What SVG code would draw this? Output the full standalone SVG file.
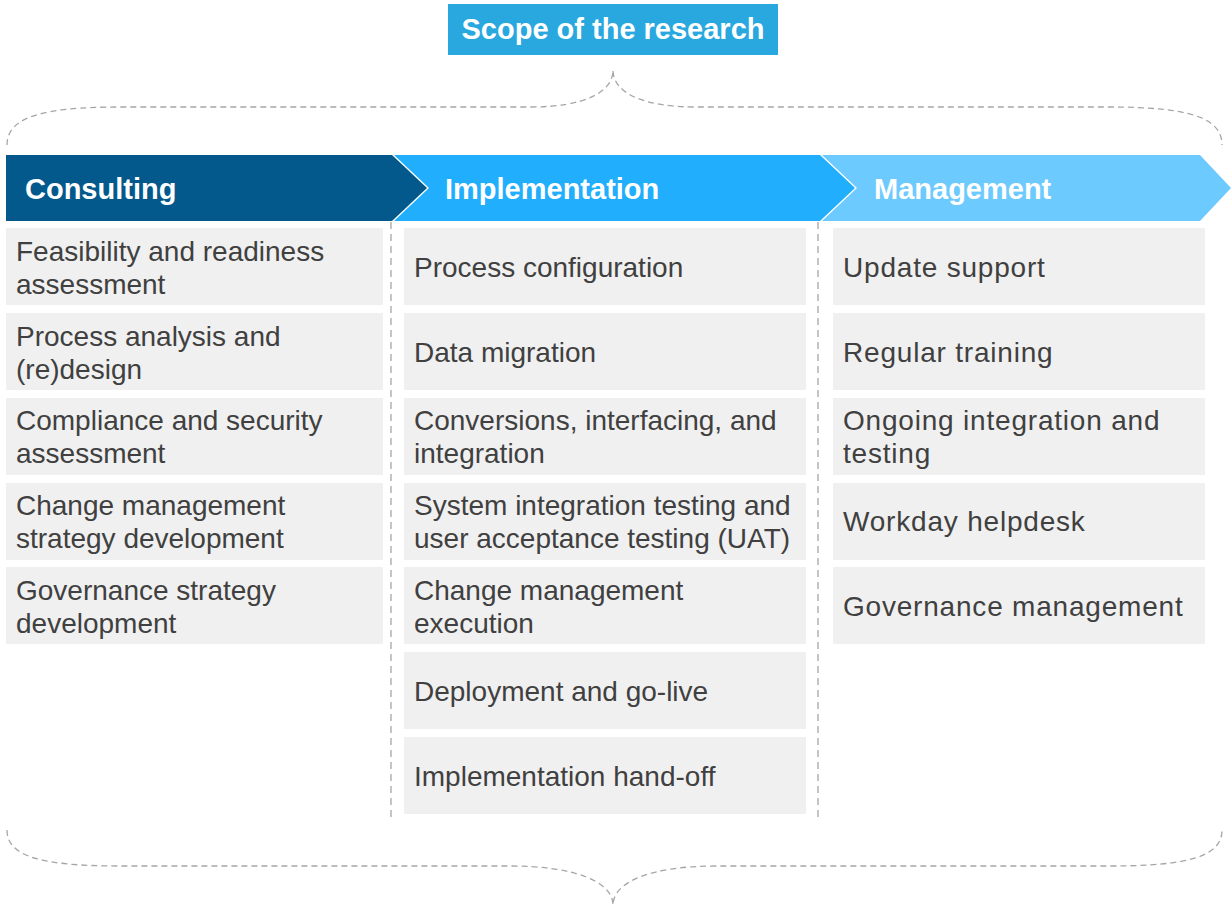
<svg xmlns="http://www.w3.org/2000/svg" width="1231" height="911" viewBox="0 0 1231 911">
<style>
.card{fill:#F0F0F0}
.t{font-family:"Liberation Sans",Arial,sans-serif;font-size:28px;fill:#404040}
.t3{letter-spacing:0.8px}
.h{font-family:"Liberation Sans",Arial,sans-serif;font-size:29px;font-weight:bold;fill:#FFFFFF}
.brace{fill:none;stroke:#A6A6A6;stroke-width:1.3;stroke-dasharray:6 4}
.sep{fill:none;stroke:#A6A6A6;stroke-width:1.3;stroke-dasharray:7 5}
</style>
<rect width="1231" height="911" fill="#FFFFFF"/>
<g id="title">
<rect x="448" y="4" width="330" height="51" fill="#29A8E0"/>
<text class="h" x="613" y="39" text-anchor="middle">Scope of the research</text>
</g>
<g id="connectors">
<path class="brace" d="M7,145 C7,118 40,107 120,107 L530,107 C585,107 613,92 613,70 C613,92 641,107 696,107 L1110,107 C1190,107 1222,118 1222,145"/>
<path class="brace" d="M7,830 C7,856 40,866 120,866 L510,866 C575,866 613,882 613,905 C613,882 651,866 716,866 L1110,866 C1190,866 1222,856 1222,830"/>
<line class="sep" x1="391" y1="222" x2="391" y2="822"/>
<line class="sep" x1="818" y1="222" x2="818" y2="822"/>
</g>
<g id="consulting-header">
<polygon points="6,155 392,155 427,188 392,221 6,221" fill="#03588C"/>
<text class="h" x="25" y="199">Consulting</text>
</g>
<g id="implementation-header">
<polygon points="394,155 820,155 855,188 820,221 394,221 429,188" fill="#21AEFD"/>
<text class="h" x="445" y="199">Implementation</text>
</g>
<g id="management-header">
<polygon points="822,155 1200,155 1231,188 1200,221 822,221 857,188" fill="#6DCAFF"/>
<text class="h" x="874" y="199">Management</text>
</g>
<g id="c1"><rect class="card" x="6" y="228" width="377" height="77"/><text class="t" x="16" y="261">Feasibility and readiness</text><text class="t" x="16" y="294">assessment</text></g>
<g id="c2"><rect class="card" x="6" y="313" width="377" height="77"/><text class="t" x="16" y="346">Process analysis and</text><text class="t" x="16" y="379">(re)design</text></g>
<g id="c3"><rect class="card" x="6" y="398" width="377" height="77"/><text class="t" x="16" y="430">Compliance and security</text><text class="t" x="16" y="463">assessment</text></g>
<g id="c4"><rect class="card" x="6" y="483" width="377" height="77"/><text class="t" x="16" y="515">Change management</text><text class="t" x="16" y="548">strategy development</text></g>
<g id="c5"><rect class="card" x="6" y="567" width="377" height="77"/><text class="t" x="16" y="600">Governance strategy</text><text class="t" x="16" y="633">development</text></g>
<g id="i1"><rect class="card" x="404" y="228" width="402" height="77"/><text class="t" x="414" y="277">Process configuration</text></g>
<g id="i2"><rect class="card" x="404" y="313" width="402" height="77"/><text class="t" x="414" y="362">Data migration</text></g>
<g id="i3"><rect class="card" x="404" y="398" width="402" height="77"/><text class="t" x="414" y="430">Conversions, interfacing, and</text><text class="t" x="414" y="463">integration</text></g>
<g id="i4"><rect class="card" x="404" y="483" width="402" height="77"/><text class="t" x="414" y="515">System integration testing and</text><text class="t" x="414" y="548">user acceptance testing (UAT)</text></g>
<g id="i5"><rect class="card" x="404" y="567" width="402" height="77"/><text class="t" x="414" y="600">Change management</text><text class="t" x="414" y="633">execution</text></g>
<g id="i6"><rect class="card" x="404" y="652" width="402" height="77"/><text class="t" x="414" y="701">Deployment and go-live</text></g>
<g id="i7"><rect class="card" x="404" y="737" width="402" height="77"/><text class="t" x="414" y="786">Implementation hand-off</text></g>
<g id="m1"><rect class="card" x="833" y="228" width="372" height="77"/><text class="t t3" x="843" y="277">Update support</text></g>
<g id="m2"><rect class="card" x="833" y="313" width="372" height="77"/><text class="t t3" x="843" y="362">Regular training</text></g>
<g id="m3"><rect class="card" x="833" y="398" width="372" height="77"/><text class="t t3" x="843" y="430">Ongoing integration and</text><text class="t t3" x="843" y="463">testing</text></g>
<g id="m4"><rect class="card" x="833" y="483" width="372" height="77"/><text class="t t3" x="843" y="531">Workday helpdesk</text></g>
<g id="m5"><rect class="card" x="833" y="567" width="372" height="77"/><text class="t t3" x="843" y="616">Governance management</text></g>
</svg>
